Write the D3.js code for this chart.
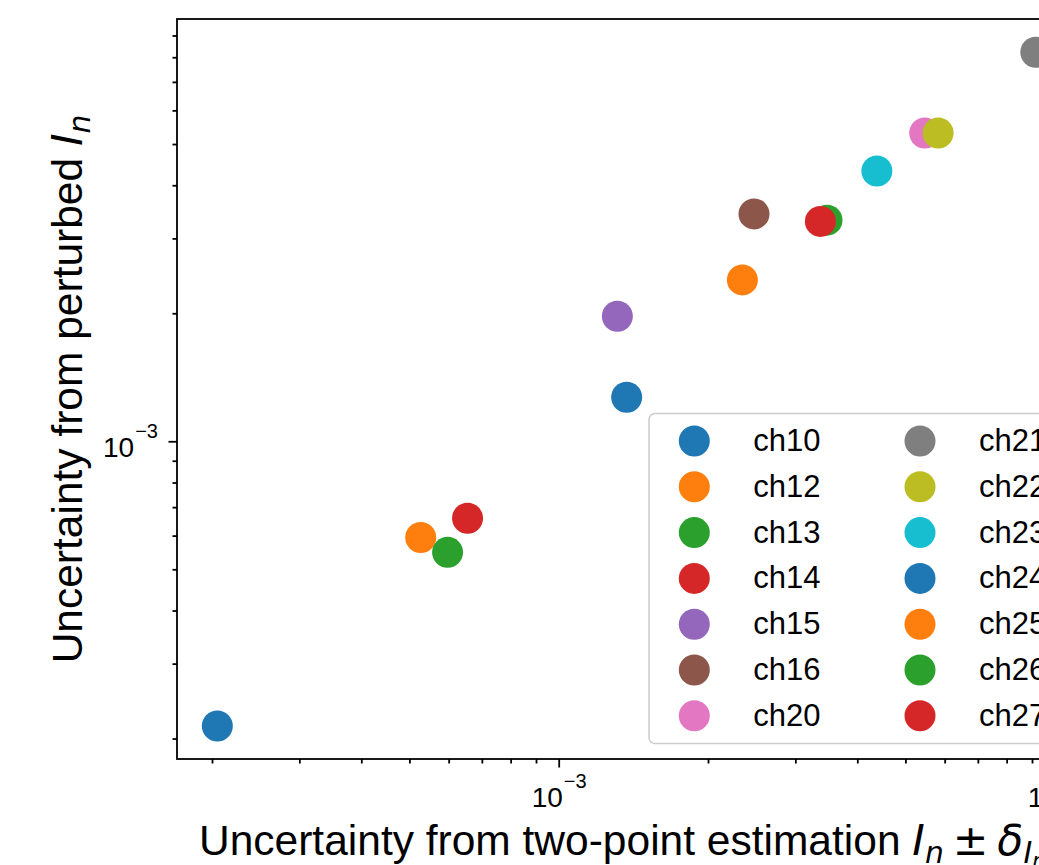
<!DOCTYPE html>
<html><head><meta charset="utf-8">
<script src="https://cdn.jsdelivr.net/npm/d3@7"></script>
<style>
body{margin:0;background:#fff}
svg{display:block}
text{font-family:"Liberation Sans",Arial,Helvetica,sans-serif;fill:#000}
.m{font-family:"DejaVu Sans",sans-serif;font-style:italic}
.mu{font-family:"DejaVu Sans",sans-serif}
</style>
</head><body>
<svg id="c" width="1039" height="865"></svg>
<script>
// ---- data ----
const channels = ["ch10","ch12","ch13","ch14","ch15","ch16","ch20","ch21","ch22","ch23","ch24","ch25","ch26","ch27"];
const twoPoint  = [2.05e-4, 5.27e-4, 5.97e-4, 6.55e-4, 1.313e-3, 2.476e-3, 5.47e-3, 9.16e-3, 5.82e-3, 4.38e-3, 1.371e-3, 2.346e-3, 3.475e-3, 3.37e-3];
const perturbed = [2.14e-4, 5.94e-4, 5.48e-4, 6.59e-4, 1.968e-3, 3.425e-3, 5.31e-3, 8.22e-3, 5.31e-3, 4.32e-3, 1.269e-3, 2.396e-3, 3.311e-3, 3.289e-3];
const colors = ["#1f77b4","#ff7f0e","#2ca02c","#d62728","#9467bd","#8c564b","#e377c2","#7f7f7f","#bcbd22","#17becf","#1f77b4","#ff7f0e","#2ca02c","#d62728"];
const xMajorTicks = [1e-3, 1e-2];
const xTickExponents = ["−3", "−2"];
const yMajorTicks = [1e-3];
const yTickExponents = ["−3"];
const xDomain = [1.7e-4, 1.2e-2];
const yDomain = [1.79e-4, 9.84e-3];

(function () {
// ---- layout ----
const svg = d3.select("#c");
const mLeft = 177, mTop = 19, mBottom = 759;
const xDecade = 496;
const mRight = mLeft + xDecade * Math.log10(xDomain[1] / xDomain[0]);

const x = d3.scaleLog().domain(xDomain).range([mLeft, mRight]);
const y = d3.scaleLog().domain(yDomain).range([mBottom, mTop]);

const isMajor = v => Math.abs(Math.log10(v) - Math.round(Math.log10(v))) < 1e-9;
const xMinor = x.ticks().filter(v => !isMajor(v));
const yMinor = y.ticks().filter(v => !isMajor(v));

const lw = 1.8;

// points
const pts = channels.map((c, i) => ({c, x: twoPoint[i], y: perturbed[i], col: colors[i]}));
svg.append("g").selectAll("circle").data(pts).join("circle")
  .attr("cx", d => x(d.x)).attr("cy", d => y(d.y)).attr("r", 15.5)
  .attr("fill", d => d.col);

const tfs = 28, sfs = 20;
// x axis
const gx = svg.append("g").attr("transform", `translate(0,${mBottom})`);
gx.append("g").call(d3.axisBottom(x).tickValues(xMinor).tickSize(4.5).tickFormat(""))
  .call(g => g.select(".domain").remove());
const gxM = gx.append("g").call(d3.axisBottom(x).tickValues(xMajorTicks).tickSize(8.5).tickFormat(""))
  .call(g => g.select(".domain").remove());
gxM.selectAll(".tick").each(function(d, i) {
  const t = d3.select(this).append("text").attr("text-anchor", "middle").attr("y", 48).attr("font-size", tfs);
  t.append("tspan").text("10");
  t.append("tspan").attr("dy", -19).attr("dx", 1).attr("font-size", sfs).text(xTickExponents[i]);
});

// y axis
const gy = svg.append("g").attr("transform", `translate(${mLeft},0)`);
gy.append("g").call(d3.axisLeft(y).tickValues(yMinor).tickSize(4.5).tickFormat(""))
  .call(g => g.select(".domain").remove());
const gyM = gy.append("g").call(d3.axisLeft(y).tickValues(yMajorTicks).tickSize(8.5).tickFormat(""))
  .call(g => g.select(".domain").remove());
gyM.selectAll(".tick").each(function(d, i) {
  const t = d3.select(this).append("text").attr("text-anchor", "end").attr("x", -19).attr("y", 15).attr("font-size", tfs);
  t.append("tspan").text("10");
  t.append("tspan").attr("dy", -19).attr("dx", 1).attr("font-size", sfs).text(yTickExponents[i]);
});
svg.selectAll(".tick line").attr("stroke", "#000").attr("stroke-width", lw);

// spines
svg.append("rect").attr("x", mLeft).attr("y", mTop).attr("width", mRight - mLeft).attr("height", mBottom - mTop)
  .attr("fill", "none").attr("stroke", "#000").attr("stroke-width", lw);

// axis labels
const fs = 42.5;
const xl = svg.append("text").attr("x", 199).attr("y", 855).attr("font-size", fs);
xl.append("tspan").text("Uncertainty from two-point estimation ");
xl.append("tspan").attr("class", "m").text("I");
xl.append("tspan").attr("class", "m").attr("font-size", fs * 0.7).attr("dy", 8).text("n");
xl.append("tspan").attr("class", "mu").attr("dy", -8).attr("dx", 9).text("±");
xl.append("tspan").attr("class", "m").attr("dx", 9).text("δ");
xl.append("tspan").attr("class", "m").attr("font-size", fs * 0.7).attr("dy", 8).text("I");
xl.append("tspan").attr("class", "m").attr("font-size", fs * 0.5).attr("dy", 5).text("n");

const yl = svg.append("text").attr("transform", `translate(82,${(mTop + mBottom) / 2}) rotate(-90)`)
  .attr("text-anchor", "middle").attr("font-size", fs);
yl.append("tspan").text("Uncertainty from perturbed ");
yl.append("tspan").attr("class", "m").text("I");
yl.append("tspan").attr("class", "m").attr("font-size", fs * 0.7).attr("dy", 8).text("n");

// legend
const lg = svg.append("g");
lg.append("rect").attr("x", 649).attr("y", 413.5).attr("width", 420).attr("height", 330)
  .attr("rx", 6).attr("fill", "#fff").attr("fill-opacity", 0.8).attr("stroke", "#cccccc").attr("stroke-width", 1.5);
const rows = 7, rowH = 45.8, row0 = 441, col0 = 694.3, colW = 225.7;
const items = lg.selectAll("g.item").data(pts).join("g").attr("class", "item")
  .attr("transform", (d, i) => `translate(${col0 + Math.floor(i / rows) * colW},${row0 + (i % rows) * rowH})`);
items.append("circle").attr("r", 15.5).attr("fill", d => d.col);
items.append("text").attr("x", 59).attr("y", 10).attr("font-size", 31).text(d => d.c);
})();
</script>
</body></html>
